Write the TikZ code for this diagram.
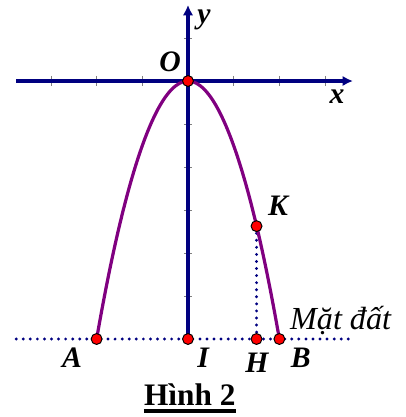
\documentclass[tikz,border=0pt]{standalone}
\usepackage{fontspec}
\setmainfont{Liberation Serif}
\usepackage{tikz}
\usetikzlibrary{arrows.meta}
\definecolor{XanhTruc}{RGB}{0,0,128}
\definecolor{TimParabol}{RGB}{128,0,128}
\tikzset{
  diem/.style={circle,fill=red,draw=black,line width=0.6pt,inner sep=0pt,minimum size=6.8pt},
  nhan/.style={inner sep=0pt,font=\fontsize{18.5}{20}\selectfont\bfseries\itshape},
  chamcham/.style={XanhTruc,line width=2pt,line cap=round,dash pattern=on 0pt off 4.4pt},
  truc/.style={->,XanhTruc,line width=2.3pt},
}

\begin{document}
\begin{tikzpicture}[x=1cm,y=0.941cm,>={Latex[length=6.5pt,width=6.5pt]}]
  \useasboundingbox (-4.114,-7.814) rectangle (4.770,1.884);
  \coordinate (O) at (0,0);
  \coordinate (A) at (-2,-6);
  \coordinate (B) at (2,-6);
  \coordinate (I) at (0,-6);
  \coordinate (H) at (1.5,-6);
  \coordinate (K) at (1.5,-3.375);
  \coordinate (xTrai) at (-3.76,0);
  \coordinate (xPhai) at (3.61,0);
  \coordinate (yTren) at (0,1.77);
  \coordinate (datTrai) at (-3.76,-6);
  \coordinate (datPhai) at (3.61,-6);
  % vach chia
  \foreach \t in {-3,-2,-1,1,2,3} \draw[gray,thin] (\t,0.12) -- (\t,-0.12);
  \foreach \t in {1,-1,-2,-3,-4,-5} \draw[gray,thin] (-0.09,\t) -- (0.09,\t);
  % mat dat
  \draw[chamcham] (datTrai) -- (datPhai);
  \draw[chamcham] (K) -- (H);
  % truc toa do
  \draw[truc] (xTrai) -- (xPhai);
  \draw[truc] (I) -- (yTren);
  % parabol
  \draw[TimParabol,line width=2pt] (A) parabola bend (O) (B);
  \foreach \p in {O,A,B,I,H,K} \node[diem] (d\p) at (\p) {};
  \node[nhan] (nO) at (-0.39,0.44) {O};
  \node[nhan] (ny) at (0.35,1.43) {y};
  \node[nhan] (nx) at (3.26,-0.37) {x};
  \node[nhan] (nK) at (1.97,-2.91) {K};
  \node[nhan] (nA) at (-2.54,-6.44) {A};
  \node[nhan] (nI) at (0.33,-6.44) {I};
  \node[nhan] (nH) at (1.51,-6.56) {H};
  \node[nhan] (nB) at (2.47,-6.44) {B};
  \node[inner sep=0pt,anchor=base west,font=\fontsize{20}{22}\selectfont\itshape] (matdat) at (2.23,-5.77) {Mặt đất};
  \node[inner sep=0pt,anchor=base,font=\fontsize{19.5}{22}\selectfont\bfseries] (hinh) at (0.04,-7.535) {Hình 2};
  \draw[line width=2pt] ([yshift=-3.7pt]hinh.base west) -- ([yshift=-3.7pt]hinh.base east);
\end{tikzpicture}
\end{document}
